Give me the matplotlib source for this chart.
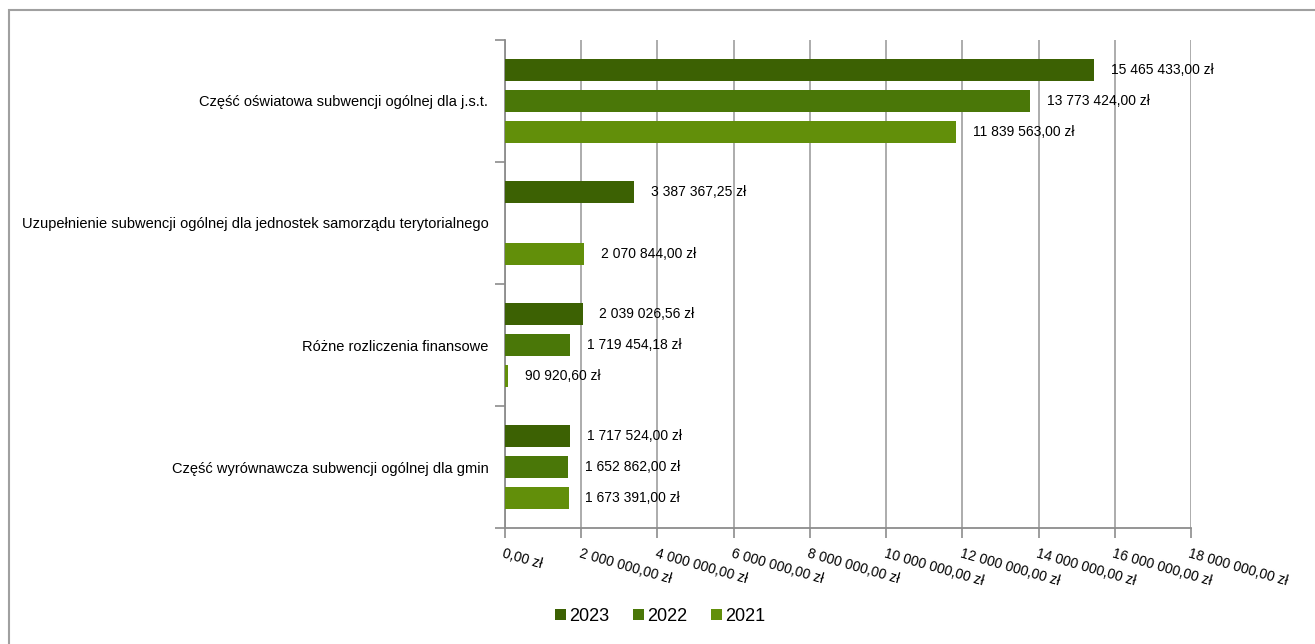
"""Subwencje ogólne 2021-2023 - horizontal grouped bar chart."""

import matplotlib

matplotlib.use("Agg")
import matplotlib.pyplot as plt
import numpy as np
from matplotlib.patches import Patch, Rectangle
from matplotlib.ticker import FixedLocator, FuncFormatter

plt.rcParams["font.family"] = ["Liberation Sans", "DejaVu Sans"]

categories = [
    "Część oświatowa subwencji ogólnej dla j.s.t.",
    "Uzupełnienie subwencji ogólnej dla jednostek samorządu terytorialnego",
    "Różne rozliczenia finansowe",
    "Część wyrównawcza subwencji ogólnej dla gmin",
]
years = ["2023", "2022", "2021"]
values_2023 = [15465433.00, 3387367.25, 2039026.56, 1717524.00]
values_2022 = [13773424.00, np.nan, 1719454.18, 1652862.00]
values_2021 = [11839563.00, 2070844.00, 90920.60, 1673391.00]
colors = ["#3c6103", "#4a7708", "#628f0a"]


def format_pln(value: float) -> str:
    text = f"{value:,.2f}"
    text = text.replace(",", " ").replace(".", ",")
    return f"{text} zł"


def main() -> None:
    fig = plt.figure(figsize=(13.15, 6.44), dpi=100)
    ax = fig.add_axes([0.384, 0.180, 0.5217, 0.758])

    series = [values_2023, values_2022, values_2021]
    centers = np.arange(len(categories))
    offset = 0.254
    height = 0.18

    for i, (year, vals, color) in enumerate(zip(years, series, colors)):
        ypos = centers + (i - 1) * offset
        vals = np.array(vals, dtype=float)
        mask = ~np.isnan(vals)
        ax.barh(ypos[mask], vals[mask], height=height, color=color,
                label=year, zorder=3)
        for y, v in zip(ypos[mask], vals[mask]):
            ax.annotate(format_pln(v), xy=(v, y), xytext=(12, 0),
                        textcoords="offset points", va="center", ha="left",
                        fontsize=10, color="#000000", zorder=4)

    ax.set_xlim(0, 18000000)
    ax.set_ylim(len(categories) - 0.5, -0.5)

    ax.set_xticks(np.arange(0, 18000001, 2000000))
    ax.xaxis.set_major_formatter(FuncFormatter(lambda v, _: format_pln(v)))
    for label in ax.get_xticklabels():
        label.set_rotation(-16)
        label.set_ha("left")
        label.set_va("top")
        label.set_rotation_mode("anchor")
        label.set_fontsize(10)
    ax.tick_params(axis="x", length=7, width=1.2, color="#8c8c8c", pad=6)

    ax.yaxis.set_major_locator(FixedLocator(np.arange(-0.5, len(categories), 1)))
    ax.yaxis.set_minor_locator(FixedLocator(centers))
    ax.set_yticklabels([], minor=False)
    ax.set_yticklabels(categories, minor=True, fontsize=10.5)
    ax.tick_params(axis="y", which="major", length=7, width=1.2,
                   color="#8c8c8c")
    ax.tick_params(axis="y", which="minor", length=0, pad=12)

    ax.grid(axis="x", color="#a6a6a6", linewidth=1.3, zorder=0)
    for side in ("top", "right"):
        ax.spines[side].set_visible(False)
    for side in ("left", "bottom"):
        ax.spines[side].set_color("#8c8c8c")
        ax.spines[side].set_linewidth(1.3)

    handles = [Patch(facecolor=c, edgecolor="none") for c in colors]
    fig.legend(handles, years, loc="center", bbox_to_anchor=(0.502, 0.043),
               ncol=3, frameon=False, fontsize=13, handlelength=0.6,
               handleheight=0.6, handletextpad=0.2, columnspacing=1.3)

    fig.patches.append(Rectangle((9 / 1315, -0.05), 1.05, 1.05 - 10 / 644,
                                 transform=fig.transFigure, fill=False,
                                 edgecolor="#a0a0a0", linewidth=1.5))

    fig.savefig("out.png", dpi=100)
    plt.close(fig)


if __name__ == "__main__":
    main()
